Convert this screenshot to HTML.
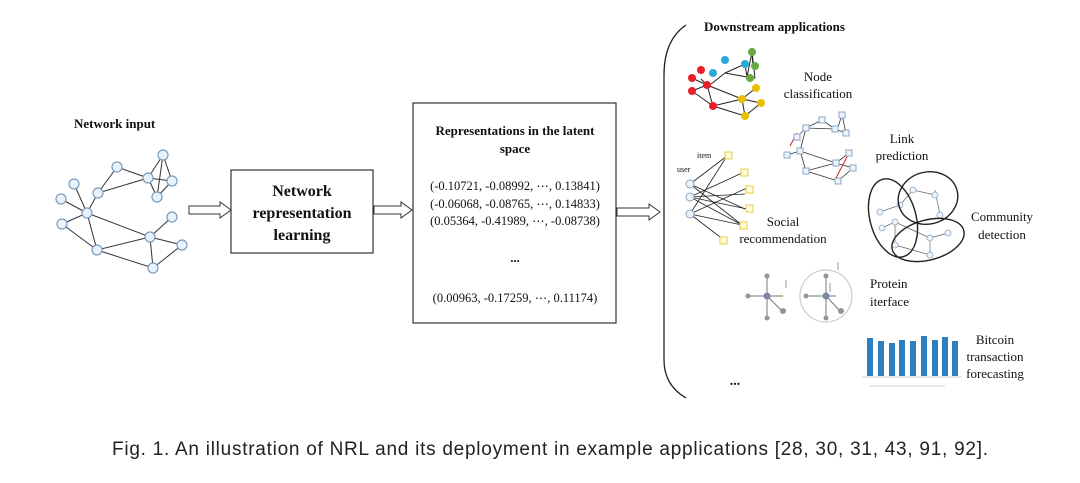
<!DOCTYPE html>
<html><head><meta charset="utf-8"><style>
html,body{margin:0;padding:0;background:#fff;}
svg{display:block;}
.t{font-family:"Liberation Serif",serif;fill:#111;}
.b{font-weight:bold;}
.cap{font-family:"Liberation Sans",sans-serif;fill:#222;}
</style></head><body>
<svg width="1080" height="483" viewBox="0 0 1080 483" xmlns="http://www.w3.org/2000/svg">
<rect width="1080" height="483" fill="#fff"/>
<text x="74" y="128" class="t b" font-size="13">Network input</text>
<g stroke="#333" stroke-width="1">
<line x1="117" y1="167" x2="148" y2="178"/><line x1="98" y1="193" x2="148" y2="178"/><line x1="98" y1="193" x2="117" y2="167"/>
<line x1="163" y1="155" x2="148" y2="178"/><line x1="163" y1="155" x2="172" y2="181"/><line x1="163" y1="155" x2="157" y2="197"/>
<line x1="148" y1="178" x2="157" y2="197"/><line x1="172" y1="181" x2="157" y2="197"/><line x1="148" y1="178" x2="172" y2="181"/>
<line x1="87" y1="213" x2="98" y2="193"/><line x1="87" y1="213" x2="74" y2="184"/><line x1="87" y1="213" x2="61" y2="199"/>
<line x1="87" y1="213" x2="62" y2="224"/><line x1="87" y1="213" x2="97" y2="250"/><line x1="62" y1="224" x2="97" y2="250"/>
<line x1="87" y1="213" x2="150" y2="237"/><line x1="97" y1="250" x2="150" y2="237"/><line x1="97" y1="250" x2="153" y2="268"/>
<line x1="150" y1="237" x2="172" y2="217"/><line x1="150" y1="237" x2="182" y2="245"/><line x1="150" y1="237" x2="153" y2="268"/><line x1="153" y1="268" x2="182" y2="245"/>
</g>
<g fill="#e8f2fb" stroke="#7a9cc0" stroke-width="1.2">
<circle cx="163" cy="155" r="5"/><circle cx="172" cy="181" r="5"/><circle cx="157" cy="197" r="5"/><circle cx="148" cy="178" r="5"/>
<circle cx="117" cy="167" r="5"/><circle cx="98" cy="193" r="5"/><circle cx="74" cy="184" r="5"/><circle cx="61" cy="199" r="5"/>
<circle cx="87" cy="213" r="5"/><circle cx="62" cy="224" r="5"/><circle cx="97" cy="250" r="5"/><circle cx="150" cy="237" r="5"/>
<circle cx="172" cy="217" r="5"/><circle cx="182" cy="245" r="5"/><circle cx="153" cy="268" r="5"/>
</g>
<g fill="#fff" stroke="#333" stroke-width="1">
<path d="M189 206 H220 V202 L231 210 L220 218 V214 H189 Z"/>
<path d="M374 206 H401 V202 L412 210 L401 218 V214 H374 Z"/>
<path d="M617 208 H649 V204 L660 212 L649 220 V216 H617 Z"/>
</g>
<rect x="231" y="170" width="142" height="83" fill="#fff" stroke="#333" stroke-width="1.2"/>
<text x="302" y="196" text-anchor="middle" class="t b" font-size="16">Network</text>
<text x="302" y="218" text-anchor="middle" class="t b" font-size="16">representation</text>
<text x="302" y="240" text-anchor="middle" class="t b" font-size="16">learning</text>
<rect x="413" y="103" width="203" height="220" fill="#fff" stroke="#333" stroke-width="1.2"/>
<text x="515" y="135" text-anchor="middle" class="t b" font-size="13">Representations in the latent</text>
<text x="515" y="153" text-anchor="middle" class="t b" font-size="13">space</text>
<g class="t" font-size="12.5" text-anchor="middle">
<text x="515" y="190">(-0.10721, -0.08992, ⋯, 0.13841)</text>
<text x="515" y="208">(-0.06068, -0.08765, ⋯, 0.14833)</text>
<text x="515" y="225">(0.05364, -0.41989, ⋯, -0.08738)</text>
<text x="515" y="262" class="b">...</text>
<text x="515" y="302">(0.00963, -0.17259, ⋯, 0.11174)</text>
</g>
<path d="M686 25 Q664 40 664 75 V360 Q664 385 686 398" fill="none" stroke="#222" stroke-width="1.3"/>
<text x="704" y="31" class="t b" font-size="13">Downstream applications</text>
<g stroke="#222" stroke-width="1">
<line x1="711" y1="84" x2="725" y2="73"/><line x1="725" y1="73" x2="745" y2="64"/><line x1="745" y1="64" x2="747" y2="77"/><line x1="725" y1="73" x2="747" y2="77"/>
<line x1="747" y1="77" x2="752" y2="52"/><line x1="752" y1="52" x2="753" y2="68"/><line x1="752" y1="52" x2="755" y2="78"/><line x1="747" y1="77" x2="755" y2="78"/>
<line x1="707" y1="85" x2="701" y2="79"/><line x1="707" y1="85" x2="692" y2="78"/><line x1="707" y1="85" x2="692" y2="91"/><line x1="707" y1="85" x2="713" y2="106"/><line x1="692" y1="91" x2="713" y2="106"/>
<line x1="707" y1="85" x2="742" y2="99"/><line x1="713" y1="106" x2="742" y2="99"/><line x1="713" y1="106" x2="745" y2="116"/><line x1="742" y1="99" x2="756" y2="88"/><line x1="742" y1="99" x2="761" y2="103"/><line x1="745" y1="116" x2="761" y2="103"/><line x1="742" y1="99" x2="745" y2="116"/>
</g>
<g stroke="none">
<circle cx="701" cy="70" r="4" fill="#e8202a"/><circle cx="692" cy="78" r="4" fill="#e8202a"/><circle cx="707" cy="85" r="4" fill="#e8202a"/><circle cx="692" cy="91" r="4" fill="#e8202a"/><circle cx="713" cy="106" r="4" fill="#e8202a"/>
<circle cx="713" cy="73" r="4" fill="#2aa8d8"/><circle cx="725" cy="60" r="4" fill="#2aa8d8"/><circle cx="745" cy="64" r="4" fill="#2aa8d8"/>
<circle cx="752" cy="52" r="4" fill="#6aaa44"/><circle cx="755" cy="66" r="4" fill="#6aaa44"/><circle cx="750" cy="78" r="4" fill="#6aaa44"/>
<circle cx="742" cy="99" r="4" fill="#e8c000"/><circle cx="756" cy="88" r="4" fill="#e8c000"/><circle cx="761" cy="103" r="4" fill="#e8c000"/><circle cx="745" cy="116" r="4" fill="#e8c000"/>
</g>
<text x="818" y="81" text-anchor="middle" class="t" font-size="13">Node</text>
<text x="818" y="98" text-anchor="middle" class="t" font-size="13">classification</text>
<g stroke="#333" stroke-width="0.8">
<line x1="797" y1="137" x2="806" y2="128"/><line x1="806" y1="128" x2="822" y2="120"/><line x1="822" y1="120" x2="835" y2="129"/><line x1="806" y1="128" x2="835" y2="129"/>
<line x1="842" y1="115" x2="837" y2="130"/><line x1="842" y1="115" x2="846" y2="133"/><line x1="835" y1="129" x2="846" y2="133"/>
<line x1="800" y1="151" x2="787" y2="155"/><line x1="800" y1="151" x2="806" y2="128"/><line x1="800" y1="151" x2="806" y2="171"/><line x1="800" y1="151" x2="836" y2="163"/><line x1="806" y1="171" x2="836" y2="163"/><line x1="806" y1="171" x2="838" y2="181"/><line x1="836" y1="163" x2="849" y2="153"/><line x1="836" y1="163" x2="853" y2="168"/><line x1="838" y1="181" x2="853" y2="168"/>
</g>
<line x1="790" y1="146" x2="797" y2="133" stroke="#d02030" stroke-width="1"/><line x1="836" y1="178" x2="849" y2="153" stroke="#d02030" stroke-width="1"/>
<g fill="#eef4fb" stroke="#8aa6c4" stroke-width="1">
<rect x="794" y="134" width="6" height="6"/><rect x="803" y="125" width="6" height="6"/><rect x="819" y="117" width="6" height="6"/><rect x="832" y="126" width="6" height="6"/><rect x="839" y="112" width="6" height="6"/><rect x="843" y="130" width="6" height="6"/>
<rect x="784" y="152" width="6" height="6"/><rect x="797" y="148" width="6" height="6"/><rect x="803" y="168" width="6" height="6"/><rect x="833" y="160" width="6" height="6"/><rect x="846" y="150" width="6" height="6"/><rect x="850" y="165" width="6" height="6"/><rect x="835" y="178" width="6" height="6"/>
</g>
<text x="902" y="143" text-anchor="middle" class="t" font-size="13">Link</text>
<text x="902" y="160" text-anchor="middle" class="t" font-size="13">prediction</text>
<text x="697" y="158" class="t" font-size="8" fill="#444">item</text>
<text x="677" y="172" class="t" font-size="8" fill="#444">user</text>
<g stroke="#222" stroke-width="0.8">
<line x1="690" y1="184" x2="727" y2="156"/><line x1="690" y1="184" x2="745" y2="209"/><line x1="690" y1="184" x2="742" y2="225"/>
<line x1="690" y1="197" x2="742" y2="173"/><line x1="690" y1="197" x2="745" y2="194"/><line x1="690" y1="197" x2="747" y2="209"/><line x1="690" y1="197" x2="742" y2="225"/>
<line x1="690" y1="214" x2="727" y2="156"/><line x1="690" y1="214" x2="747" y2="188"/><line x1="690" y1="214" x2="724" y2="240"/><line x1="690" y1="214" x2="742" y2="225"/>
</g>
<g fill="#eef4fb" stroke="#8aa6c4" stroke-width="1"><circle cx="690" cy="184" r="4"/><circle cx="690" cy="197" r="4"/><circle cx="690" cy="214" r="4"/></g>
<g fill="#fffbe0" stroke="#e4cc40" stroke-width="1">
<rect x="725" y="152" width="7" height="7"/><rect x="741" y="169" width="7" height="7"/><rect x="746" y="186" width="7" height="7"/><rect x="746" y="205" width="7" height="7"/><rect x="740" y="222" width="7" height="7"/><rect x="720" y="237" width="7" height="7"/>
</g>
<text x="783" y="226" text-anchor="middle" class="t" font-size="13">Social</text>
<text x="783" y="243" text-anchor="middle" class="t" font-size="13">recommendation</text>
<g stroke="#666" stroke-width="0.7">
<line x1="880" y1="212" x2="900" y2="205"/><line x1="900" y1="205" x2="913" y2="190"/><line x1="913" y1="190" x2="935" y2="195"/><line x1="935" y1="190" x2="940" y2="215"/>
<line x1="882" y1="228" x2="895" y2="222"/><line x1="895" y1="222" x2="895" y2="245"/><line x1="895" y1="222" x2="930" y2="238"/><line x1="930" y1="238" x2="948" y2="233"/><line x1="930" y1="238" x2="930" y2="255"/><line x1="895" y1="245" x2="930" y2="255"/>
</g>
<g fill="#eef4fb" stroke="#8aa6c4" stroke-width="0.8">
<circle cx="880" cy="212" r="3"/><circle cx="900" cy="205" r="3"/><circle cx="913" cy="190" r="3"/><circle cx="935" cy="195" r="3"/><circle cx="940" cy="215" r="3"/><circle cx="882" cy="228" r="3"/><circle cx="895" cy="222" r="3"/><circle cx="895" cy="245" r="3"/><circle cx="930" cy="238" r="3"/><circle cx="948" cy="233" r="3"/><circle cx="930" cy="255" r="3"/>
</g>
<g fill="none" stroke="#222" stroke-width="1.4">
<ellipse cx="893" cy="218" rx="23" ry="40" transform="rotate(-15 893 218)"/>
<ellipse cx="928" cy="198" rx="30" ry="26" transform="rotate(-15 928 198)"/>
<ellipse cx="928" cy="240" rx="37" ry="20" transform="rotate(-15 928 240)"/>
</g>
<text x="1002" y="221" text-anchor="middle" class="t" font-size="13">Community</text>
<text x="1002" y="239" text-anchor="middle" class="t" font-size="13">detection</text>
<g stroke="#777" stroke-width="1">
<line x1="748" y1="296" x2="783" y2="296"/><line x1="767" y1="276" x2="767" y2="318"/><line x1="767" y1="296" x2="782" y2="311"/>
<line x1="806" y1="296" x2="836" y2="296"/><line x1="826" y1="276" x2="826" y2="318"/><line x1="826" y1="296" x2="840" y2="311"/>
<line x1="786" y1="280" x2="786" y2="288" stroke="#999"/><line x1="838" y1="262" x2="838" y2="270" stroke="#999"/><line x1="830" y1="283" x2="830" y2="292" stroke="#999"/>
</g>
<circle cx="826" cy="296" r="26" fill="none" stroke="#ccc" stroke-width="1.2"/>
<g fill="#8a9c8a"><circle cx="767" cy="296" r="3.5" fill="#7a88aa"/><circle cx="748" cy="296" r="2.5"/><circle cx="767" cy="276" r="2.5"/><circle cx="767" cy="318" r="2.5"/><circle cx="783" cy="311" r="3"/>
<circle cx="826" cy="296" r="3.5" fill="#7a88aa"/><circle cx="806" cy="296" r="2.5"/><circle cx="826" cy="276" r="2.5"/><circle cx="826" cy="318" r="2.5"/><circle cx="841" cy="311" r="3"/></g>
<text x="870" y="288" class="t" font-size="13">Protein</text>
<text x="870" y="306" class="t" font-size="13">iterface</text>
<g fill="#2e7fc0">
<rect x="867" y="338" width="6" height="38"/><rect x="878" y="341" width="6" height="35"/><rect x="889" y="343" width="6" height="33"/><rect x="899" y="340" width="6" height="36"/><rect x="910" y="341" width="6" height="35"/><rect x="921" y="336" width="6" height="40"/><rect x="932" y="340" width="6" height="36"/><rect x="942" y="337" width="6" height="39"/><rect x="952" y="341" width="6" height="35"/>
</g>
<line x1="862" y1="377" x2="962" y2="377" stroke="#ccc"/><line x1="870" y1="386" x2="945" y2="386" stroke="#ccc"/>
<text x="995" y="344" text-anchor="middle" class="t" font-size="13">Bitcoin</text>
<text x="995" y="361" text-anchor="middle" class="t" font-size="13">transaction</text>
<text x="995" y="378" text-anchor="middle" class="t" font-size="13">forecasting</text>
<text x="735" y="385" text-anchor="middle" class="t b" font-size="14">...</text>
<text x="550" y="455" text-anchor="middle" class="cap" font-size="19" textLength="876" lengthAdjust="spacing">Fig. 1.  An illustration of NRL and its deployment in example applications [28, 30, 31, 43, 91, 92].</text>
</svg>
</body></html>
